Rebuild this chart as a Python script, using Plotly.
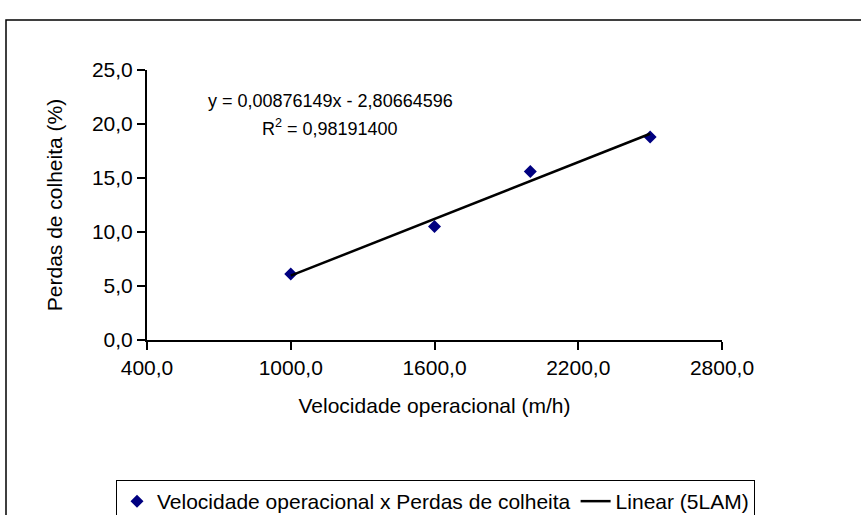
import plotly.graph_objects as go

# Data
velocidade = [1000, 1600, 2000, 2500]          # m/h
perdas = [6.1, 10.5, 15.6, 18.8]               # %
slope = 0.00876149
intercept = -2.80664596

x_ticks = [400, 1000, 1600, 2200, 2800]
y_ticks = [0, 5, 10, 15, 20, 25]

FONT = "Liberation Sans, Arial, sans-serif"
FS = 21

trend_x = [min(velocidade), max(velocidade)]
trend_y = [slope * v + intercept for v in trend_x]

fig = go.Figure()
fig.add_trace(go.Scatter(
    x=velocidade, y=perdas, mode="markers",
    name="Velocidade operacional x Perdas de colheita",
    marker=dict(symbol="diamond", size=10, color="#000080"),
))
fig.add_trace(go.Scatter(
    x=trend_x, y=trend_y, mode="lines",
    name="Linear (5LAM)",
    line=dict(color="black", width=2.5),
))

W, H = 861, 515
L, R, T, B = 147, 139, 70, 175
pw, ph = W - L - R, H - T - B

def px_x(p):
    return (p - L) / pw

def px_y(p):
    return (H - B - p) / ph

fig.update_layout(
    width=W, height=H,
    margin=dict(l=L, r=R, t=T, b=B, autoexpand=False),
    paper_bgcolor="white", plot_bgcolor="white",
    separators=", ",
    font=dict(family=FONT, size=FS, color="black"),
    showlegend=True,
    legend=dict(
        orientation="h", x=px_x(116), xanchor="left",
        y=px_y(480), yanchor="top",
        bordercolor="black", borderwidth=1,
        font=dict(size=FS), itemwidth=30, tracegroupgap=0,
    ),
    xaxis=dict(
        range=[400, 2800], tickvals=x_ticks, tickformat=".1f",
        showline=True, linecolor="black", linewidth=2,
        ticks="outside", ticklen=8, tickwidth=2, tickcolor="black",
        showgrid=False, zeroline=False,
        title=dict(text="Velocidade operacional (m/h)", standoff=20,
                   font=dict(size=FS)),
        tickfont=dict(size=FS),
    ),
    yaxis=dict(
        range=[0, 25], tickvals=y_ticks, tickformat=".1f",
        showline=True, linecolor="black", linewidth=2,
        ticks="outside", ticklen=8, tickwidth=2, tickcolor="black",
        showgrid=False, zeroline=False,
        title=dict(text="Perdas de colheita (%)", standoff=24,
                   font=dict(size=FS)),
        tickfont=dict(size=FS),
    ),
    annotations=[
        dict(xref="paper", yref="paper", x=px_x(330), y=px_y(101),
             xanchor="center", yanchor="middle",
             text="y = 0,00876149x - 2,80664596", showarrow=False,
             font=dict(size=18)),
        dict(xref="paper", yref="paper", x=px_x(330), y=px_y(127),
             xanchor="center", yanchor="middle",
             text="R<sup>2</sup> = 0,98191400", showarrow=False,
             font=dict(size=18)),
    ],
    shapes=[
        dict(type="rect", xref="paper", yref="paper",
             x0=px_x(6), x1=px_x(880), y0=px_y(540), y1=px_y(20),
             line=dict(color="black", width=1.5), layer="below"),
    ],
)

fig.write_html(
    "out.html",
    config={"displayModeBar": False},
    post_script="document.body.style.margin='0';"
                "document.documentElement.style.overflow='hidden';",
)
